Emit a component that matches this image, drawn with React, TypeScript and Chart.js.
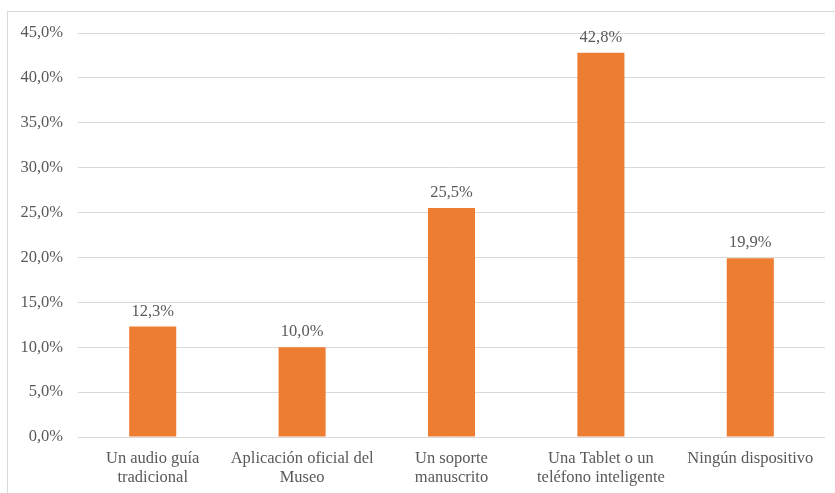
import React, { useEffect, useRef } from "react";
import { Chart, registerables } from "chart.js";

Chart.register(...registerables);

const categories: (string | string[])[] = [
  ["Un audio guía", "tradicional"],
  ["Aplicación oficial del", "Museo"],
  ["Un soporte", "manuscrito"],
  ["Una Tablet o un", "teléfono inteligente"],
  "Ningún dispositivo",
];
const values: number[] = [12.3, 10.0, 25.5, 42.8, 19.9];
const yMin = 0;
const yMax = 45;
const yStep = 5;

const FONT = "'Liberation Serif', 'DejaVu Serif', serif";
const TEXT = "#595959";
const SIZE = 16.5;

const fmt = (v: number) => v.toFixed(1).replace(".", ",") + "%";

const labelPlugin = {
  id: "barLabels",
  afterDatasetsDraw(chart: any) {
    const ctx = chart.ctx;
    const meta = chart.getDatasetMeta(0);
    ctx.save();
    ctx.font = `${SIZE}px ${FONT}`;
    ctx.fillStyle = TEXT;
    ctx.textAlign = "center";
    ctx.textBaseline = "alphabetic";
    meta.data.forEach((el: any, i: number) => {
      ctx.fillText(fmt(values[i]), el.x, el.y - 11);
    });
    ctx.restore();
  },
};

export default function App() {
  const ref = useRef<HTMLCanvasElement | null>(null);
  useEffect(() => {
    if (!ref.current) return;
    const chart = new Chart(ref.current, {
      type: "bar",
      data: {
        labels: categories,
        datasets: [
          {
            data: values,
            backgroundColor: "#ED7D31",
            barPercentage: 0.63,
            categoryPercentage: 0.5,
          },
        ],
      },
      options: {
        animation: false,
        responsive: false,
        maintainAspectRatio: false,
        layout: { padding: { left: 0, right: 10, top: 33, bottom: 0 } },
        plugins: { legend: { display: false }, tooltip: { enabled: false } },
        scales: {
          x: {
            grid: { display: false, drawTicks: false },
            border: { display: false },
            ticks: {
              color: TEXT,
              font: { family: FONT, size: SIZE, lineHeight: 1.15 },
              padding: 12,
              maxRotation: 0,
              autoSkip: false,
            },
            afterFit: (s: any) => {
              s.height = 56;
            },
          },
          y: {
            min: yMin,
            max: yMax,
            grid: { color: "#d9d9d9", drawTicks: false },
            border: { display: false },
            ticks: {
              stepSize: yStep,
              color: TEXT,
              font: { family: FONT, size: SIZE },
              padding: 15,
              callback: (v: any) => fmt(Number(v)),
            },
            afterFit: (s: any) => {
              s.width = 78;
            },
          },
        },
      },
      plugins: [labelPlugin],
    });
    return () => chart.destroy();
  }, []);
  return (
    <div style={{ position: "fixed", left: 0, top: 0, width: 835, height: 493, background: "#fff", overflow: "hidden" }}>
      <div
        style={{
          position: "absolute",
          left: 7,
          top: 11,
          width: 900,
          height: 600,
          border: "1px solid #d9d9d9",
        }}
      />
      <canvas ref={ref} width={835} height={493} style={{ position: "absolute", left: 0, top: 0 }} />
    </div>
  );
}
